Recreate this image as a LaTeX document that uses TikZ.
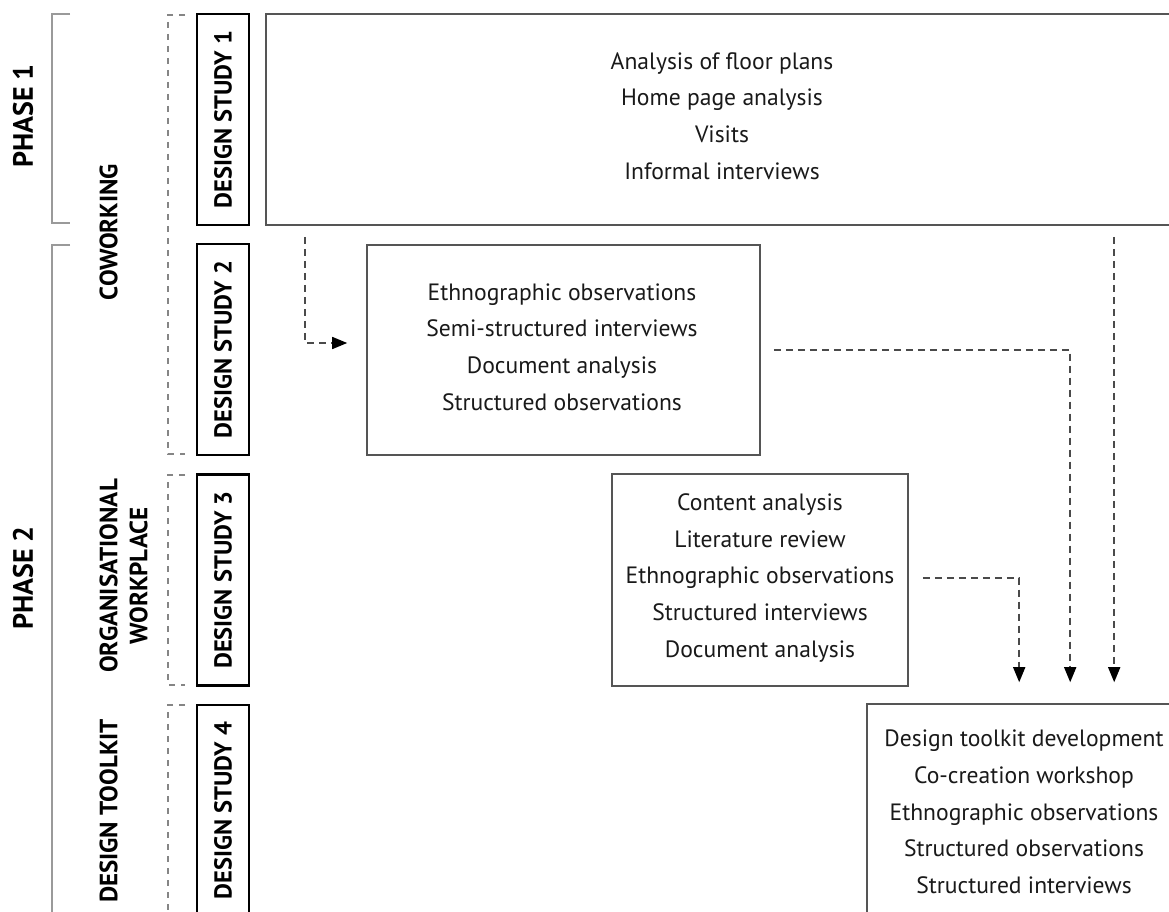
\documentclass[tikz,border=0pt]{standalone}
\usepackage{fontspec}
\setmainfont{PT Sans}
\usetikzlibrary{arrows.meta,calc}
\definecolor{boxgray}{HTML}{555555}
\definecolor{dashgray}{HTML}{4A4A4A}
\definecolor{bracketgray}{HTML}{9A9A9A}
\definecolor{guidegray}{HTML}{858585}
\begin{document}
\begin{tikzpicture}[x=1pt,y=-1pt,
  contentbox/.style={draw=boxgray,line width=1.6pt,inner sep=0pt},
  bodytext/.style={align=center,font=\fontsize{23.6}{36.7}\selectfont,inner sep=0pt,text=black!90},
  studybox/.style={draw=black,line width=2.2pt,rotate=90,minimum width=211pt,minimum height=52pt,inner sep=0pt,font=\bfseries\fontsize{24.5}{28}\selectfont},
  sidelabel/.style={rotate=90,align=center,inner sep=0pt,font=\bfseries\fontsize{25}{30}\selectfont},
  phaselabel/.style={rotate=90,inner sep=0pt,font=\bfseries\fontsize{28}{32}\selectfont},
  bracket/.style={draw=bracketgray,line width=1.6pt},
  guide/.style={draw=guidegray,line width=1.4pt,dash pattern=on 6pt off 6pt},
  conn/.style={draw=dashgray,line width=1.6pt,dash pattern=on 7pt off 5pt,-{Triangle[length=15pt,width=12pt,color=black]}}
]
\useasboundingbox (0,0) rectangle (1169,912);
\clip (0,0) rectangle (1169,912);
\fill[white] (0,0) rectangle (1169,912);

% side labels and brackets
\node[phaselabel] (ph1) at (23,116) {PHASE 1};
\node[phaselabel] (ph2) at (23,578) {PHASE 2};
\draw[bracket] (70,14) -- (52,14) -- (52,223) -- (70,223);
\draw[bracket] (70,245) -- (52,245) -- (52,930);

\node[sidelabel] (cow) at (108.5,232) {COWORKING};
\node[sidelabel] (org) at (123.5,576) {ORGANISATIONAL\\WORKPLACE};
\node[sidelabel] (tool) at (108.5,811) {DESIGN TOOLKIT};

\draw[guide] (185,15) -- (168,15) -- (168,454) -- (185,454);
\draw[guide] (185,475) -- (168,475) -- (168,685) -- (185,685);
\draw[guide] (185,705) -- (168,705) -- (168,930);

% design study boxes
\node[studybox] (ds1) at (223,119.5) {DESIGN STUDY 1};
\node[studybox] (ds2) at (223,349.5) {DESIGN STUDY 2};
\node[studybox] (ds3) at (223,580) {DESIGN STUDY 3};
\node[studybox] (ds4) at (223,810.5) {DESIGN STUDY 4};

% content boxes
\node[contentbox,minimum width=914pt,minimum height=211pt] (boxA) at (723,119.5) {};
\node[bodytext] (textA) at (722,116) {Analysis of floor plans\\Home page analysis\\Visits\\Informal interviews};

\node[contentbox,minimum width=393pt,minimum height=210pt] (boxB) at (563.5,350) {};
\node[bodytext] (textB) at (562,347) {Ethnographic observations\\Semi-structured interviews\\Document analysis\\Structured observations};

\node[contentbox,minimum width=296pt,minimum height=212pt] (boxC) at (760,580) {};
\node[bodytext] (textC) at (760,578) {Content analysis\\Literature review\\Ethnographic observations\\Structured interviews\\Document analysis};

\node[contentbox,minimum width=313pt,minimum height=226pt] (boxD) at (1023.5,817) {};
\node[bodytext] (textD) at (1024,812) {Design toolkit development\\Co-creation workshop\\Ethnographic observations\\Structured observations\\Structured interviews};

% connectors
\coordinate (a1s) at ($(boxA.south west)+(40,11)$);
\coordinate (a1e) at ($(boxB.west)+(-19,-7)$);
\draw[conn] (a1s) |- (a1e);

\coordinate (a2s) at ($(boxB.east)+(13,0)$);
\coordinate (a2e) at ($(boxD.north west)+(204,-21)$);
\draw[conn] (a2s) -| (a2e);

\coordinate (a3s) at ($(boxC.east)+(14,-2)$);
\coordinate (a3e) at ($(boxD.north west)+(153,-21)$);
\draw[conn] (a3s) -| (a3e);

\coordinate (a4s) at ($(boxA.south west)+(849,11)$);
\coordinate (a4e) at ($(boxD.north west)+(248,-21)$);
\draw[conn] (a4s) -- (a4e);
\end{tikzpicture}
\end{document}
